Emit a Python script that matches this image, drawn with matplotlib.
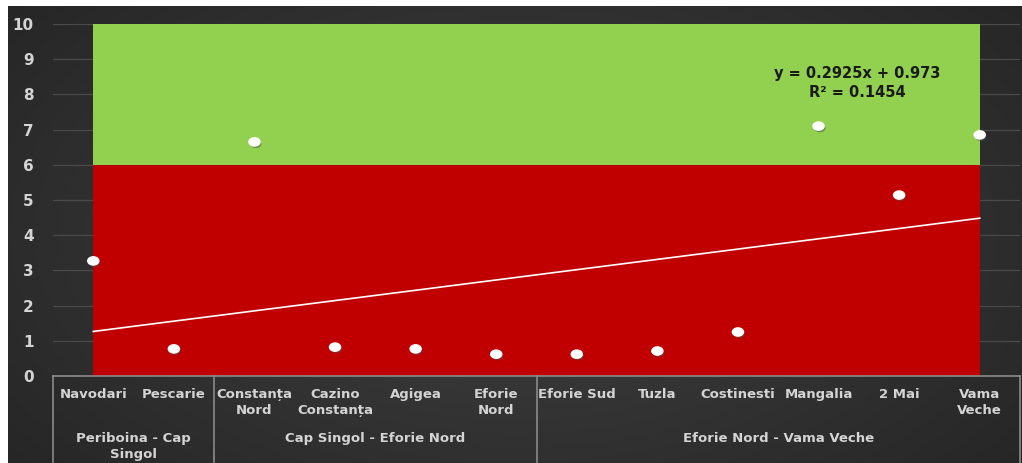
import numpy as np
import matplotlib
matplotlib.use("Agg")
import matplotlib.pyplot as plt
from matplotlib.path import Path
from matplotlib.colors import LinearSegmentedColormap
import matplotlib.patheffects as pe

# data
sites = ["Navodari", "Pescarie", "Constanța\nNord", "Cazino\nConstanța", "Agigea",
         "Eforie\nNord", "Eforie Sud", "Tuzla", "Costinesti", "Mangalia", "2 Mai",
         "Vama\nVeche"]
values = [3.27, 0.77, 6.65, 0.82, 0.77, 0.62, 0.62, 0.71, 1.25, 7.1, 5.14, 6.85]
groups = ["Periboina - Cap\nSingol", "Cap Singol - Eforie Nord", "Eforie Nord - Vama Veche"]
group_sizes = [2, 4, 6]
band_red = [6] * len(sites)      # 0..6
band_green = [10] * len(sites)   # 6..10
slope, intercept = 0.2925, 0.973
eq_text = "y = 0.2925x + 0.973\nR² = 0.1454"

FONT = "DejaVu Sans"
TXT = "#d4d4d4"

W, H = 1022, 463
fig = plt.figure(figsize=(W / 100, H / 100), dpi=100)
fig.patch.set_facecolor("white")

# dark gradient background
bg = fig.add_axes([8 / W, 0, 1 - 8 / W, 1 - 6 / H])
yy, xx = np.mgrid[-1:1:200j, -1:1:400j]
grad = np.sqrt(xx ** 2 + (yy * 0.8) ** 2)
cmap_bg = LinearSegmentedColormap.from_list("bg", ["#424242", "#333333", "#262626"])
bg.imshow(grad, cmap=cmap_bg, vmin=0, vmax=1.3, aspect="auto", extent=[0, 1, 0, 1])
bg.set_axis_off()

ax = fig.add_axes([53 / W, (H - 376) / H, (1020 - 53) / W, (376 - 24) / H])
ax.set_facecolor("none")
n = len(sites)
x = np.arange(n)

ax.fill_between(x, 0, band_red, color="#C00000", lw=0, zorder=2)
ax.fill_between(x, band_red, band_green, color="#92D050", lw=0, zorder=2)

xt = np.array([0, n - 1])
ax.plot(xt, slope * (xt + 1) + intercept, color="white", lw=1.2, zorder=3)

circ = Path.unit_circle()
ell = Path(circ.vertices * [1.35, 1.0], circ.codes)
ax.plot(x, values, ls="none", marker=ell, ms=8, mfc="white", mec="white", zorder=4,
        path_effects=[pe.SimplePatchShadow(offset=(1, -1.5), alpha=0.5), pe.Normal()])

ax.text(9.48, 8.33, eq_text, ha="center", va="center", fontsize=10.5, fontweight="bold",
        color="#1a1a1a", family=FONT, linespacing=1.35, zorder=5)

ax.set_xlim(-0.5, n - 0.5)
ax.set_ylim(0, 10)
ax.set_yticks(range(0, 11))
ax.yaxis.grid(True, color="#4a4a4a", lw=0.9, zorder=1)
ax.set_axisbelow(True)
for s in ["top", "right", "left"]:
    ax.spines[s].set_visible(False)
ax.spines["bottom"].set_color("#8a8a8a")
ax.spines["bottom"].set_linewidth(1.2)
ax.tick_params(axis="y", length=0, pad=14, labelsize=11, labelcolor=TXT)
for lab in ax.get_yticklabels():
    lab.set_fontweight("bold")
    lab.set_family(FONT)
ax.set_xticks([])

tr = ax.get_xaxis_transform()
for i, s in enumerate(sites):
    ax.text(i, -0.035, s, transform=tr, ha="center", va="top", fontsize=9.5,
            fontweight="bold", color=TXT, family=FONT, linespacing=1.3, clip_on=False)

start = 0
edges = [-0.5]
for g, sz in zip(groups, group_sizes):
    mid = start + (sz - 1) / 2
    ax.text(mid, -0.16, g, transform=tr, ha="center", va="top", fontsize=9.5,
            fontweight="bold", color=TXT, family=FONT, linespacing=1.3, clip_on=False)
    start += sz
    edges.append(start - 0.5)
for e in edges:
    ax.plot([e, e], [0, -0.245], transform=tr, color="#8a8a8a", lw=1.2, clip_on=False)

fig.savefig("out.png", dpi=100, facecolor=fig.get_facecolor())
